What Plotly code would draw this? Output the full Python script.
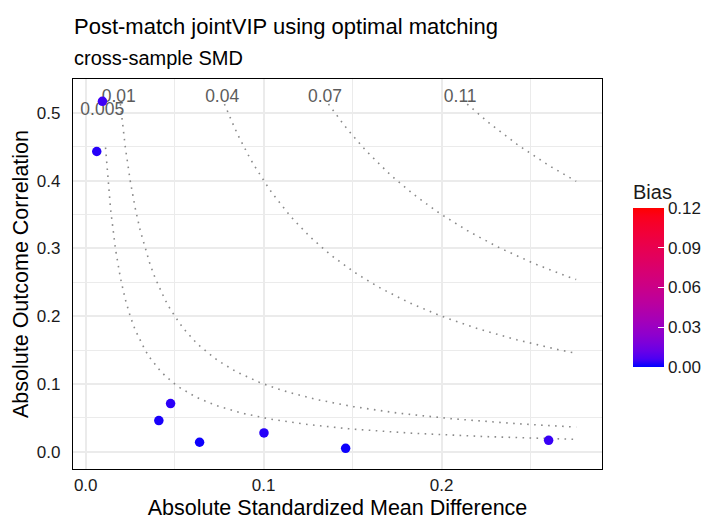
import numpy as np
import plotly.graph_objects as go

# ---- data ----
smd = [0.0094, 0.0062, 0.0477, 0.0411, 0.0640, 0.1002, 0.1461, 0.2602]
corr = [0.517, 0.443, 0.0709, 0.0458, 0.0139, 0.0276, 0.0050, 0.0168]
bias = [0.0050, 0.0030, 0.0035, 0.0020, 0.0010, 0.0030, 0.0010, 0.0045]

contour_levels = [0.005, 0.01, 0.04, 0.07, 0.11]
contour_labels = ["0.005", "0.01", "0.04", "0.07", "0.11"]
label_x = [0.0093, 0.0186, 0.0767, 0.1345, 0.2105]
label_y = [0.504, 0.522, 0.522, 0.522, 0.522]
smd_max = 0.2757
corr_cap = 0.515

x_ticks = [0.0, 0.1, 0.2]
y_ticks = [0.0, 0.1, 0.2, 0.3, 0.4, 0.5]
bias_ticks = [0.0, 0.03, 0.06, 0.09, 0.12]

FONT = "Liberation Sans"


# ---- blue->red gradient interpolated in Lab (like ggplot2) ----
def srgb_to_lab(rgb):
    c = np.array(rgb, dtype=float) / 255.0
    c = np.where(c <= 0.04045, c / 12.92, ((c + 0.055) / 1.055) ** 2.4)
    m = np.array([[0.4124564, 0.3575761, 0.1804375],
                  [0.2126729, 0.7151522, 0.0721750],
                  [0.0193339, 0.1191920, 0.9503041]])
    xyz = m @ c
    wp = np.array([0.95047, 1.0, 1.08883])
    t = xyz / wp
    f = np.where(t > (6 / 29) ** 3, np.cbrt(t), t / (3 * (6 / 29) ** 2) + 4 / 29)
    return np.array([116 * f[1] - 16, 500 * (f[0] - f[1]), 200 * (f[1] - f[2])])


def lab_to_srgb(lab):
    L, a, b = lab
    fy = (L + 16) / 116
    fx = fy + a / 500
    fz = fy - b / 200
    f = np.array([fx, fy, fz])
    t = np.where(f > 6 / 29, f ** 3, 3 * (6 / 29) ** 2 * (f - 4 / 29))
    xyz = t * np.array([0.95047, 1.0, 1.08883])
    m = np.array([[3.2404542, -1.5371385, -0.4985314],
                  [-0.9692660, 1.8760108, 0.0415560],
                  [0.0556434, -0.2040259, 1.0572252]])
    c = m @ xyz
    c = np.clip(c, 0, 1)
    c = np.where(c <= 0.0031308, 12.92 * c, 1.055 * c ** (1 / 2.4) - 0.055)
    return tuple(int(round(v * 255)) for v in np.clip(c, 0, 1))


lab_lo = srgb_to_lab((0, 0, 255))
lab_hi = srgb_to_lab((255, 0, 0))
colorscale = []
for t in np.linspace(0, 1, 21):
    r, g, b = lab_to_srgb(lab_lo + (lab_hi - lab_lo) * t)
    colorscale.append([float(t), f"rgb({r},{g},{b})"])

fig = go.Figure()

# contour reference lines: bias = smd * corr
xgrid = np.linspace(0, smd_max, 100)[1:]
for lvl in contour_levels:
    yv = lvl / xgrid
    keep = yv <= corr_cap
    fig.add_trace(go.Scatter(
        x=xgrid[keep], y=yv[keep], mode="lines",
        line=dict(color="#8a8a8a", width=1.6, dash="1.6px,5.4px"),
        hoverinfo="skip", showlegend=False))

fig.add_trace(go.Scatter(
    x=label_x, y=label_y, mode="text", text=contour_labels,
    textfont=dict(family=FONT, size=17.5, color="#5c5c5c"),
    textposition="middle center", showlegend=False, hoverinfo="skip"))

fig.add_trace(go.Scatter(
    x=smd, y=corr, mode="markers",
    marker=dict(size=9.5, color=bias, cmin=0, cmax=0.12,
                colorscale=colorscale, showscale=True,
                colorbar=dict(
                    title=dict(text="Bias", side="top",
                               font=dict(family=FONT, size=20, color="#1a1a1a")),
                    thicknessmode="pixels", thickness=31,
                    lenmode="pixels", len=186,
                    x=1.0586, xanchor="left", xref="paper",
                    y=(469 - 181) / 390, yanchor="top", yref="paper",
                    tickvals=bias_ticks,
                    ticktext=[f"{v:.2f}" for v in bias_ticks],
                    ticks="inside", ticklen=6, tickcolor="white", tickwidth=1,
                    tickfont=dict(family=FONT, size=17, color="#1a1a1a"),
                    outlinewidth=0, xpad=0, ypad=0)),
    showlegend=False))

grid_c = "#ebebeb"
fig.update_xaxes(
    range=[-0.00715, 0.2902], tickvals=x_ticks,
    ticktext=[f"{v:.1f}" for v in x_ticks],
    showgrid=True, gridcolor=grid_c, gridwidth=1.5,
    minor=dict(dtick=0.05, tick0=0, showgrid=True, gridcolor=grid_c, gridwidth=1),
    zeroline=False, showline=True, mirror=True, linecolor="black", linewidth=1.3,
    ticks="", ticklabelstandoff=0,
    tickfont=dict(family=FONT, size=17, color="#1a1a1a"),
    title=dict(text="Absolute Standardized Mean Difference", standoff=6,
               font=dict(family=FONT, size=21.5, color="black")))
fig.update_yaxes(
    range=[-0.0256, 0.550], tickvals=y_ticks,
    ticktext=[f"{v:.1f}" for v in y_ticks],
    showgrid=True, gridcolor=grid_c, gridwidth=1.5,
    minor=dict(dtick=0.05, tick0=0, showgrid=True, gridcolor=grid_c, gridwidth=1),
    zeroline=False, showline=True, mirror=True, linecolor="black", linewidth=1.3,
    ticks="", ticklabelstandoff=8,
    tickfont=dict(family=FONT, size=17, color="#1a1a1a"),
    title=dict(text="Absolute Outcome Correlation", standoff=2,
               font=dict(family=FONT, size=21.5, color="black")))

fig.update_layout(
    width=706, height=520,
    margin=dict(l=73, r=104, t=79, b=51, autoexpand=False),
    plot_bgcolor="white", paper_bgcolor="white",
    font=dict(family=FONT),
    annotations=[
        dict(text="Post-match jointVIP using optimal matching",
             xref="paper", yref="paper", x=-0.002, y=(469 - 26) / 390,
             xanchor="left", yanchor="middle", showarrow=False,
             font=dict(family=FONT, size=22, color="black")),
        dict(text="cross-sample SMD",
             xref="paper", yref="paper", x=-0.002, y=(469 - 58) / 390,
             xanchor="left", yanchor="middle", showarrow=False,
             font=dict(family=FONT, size=20, color="black")),
    ],
)

fig.write_html("out.html", config={"displayModeBar": False},
               post_script="document.body.style.margin='0';")
